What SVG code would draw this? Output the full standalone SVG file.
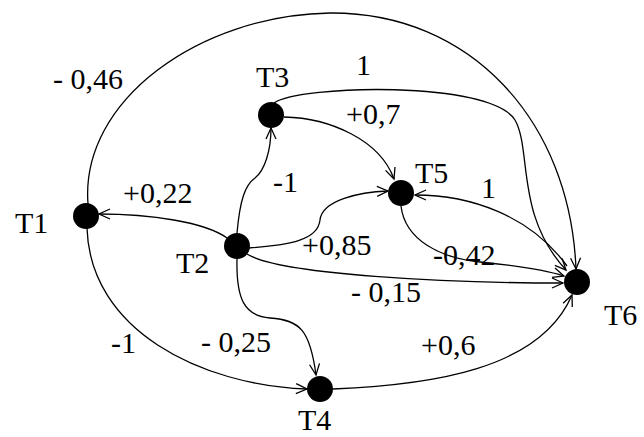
<svg xmlns="http://www.w3.org/2000/svg" width="644" height="437" viewBox="0 0 644 437">
<defs>
<marker id="a" markerUnits="userSpaceOnUse" markerWidth="14" markerHeight="12" refX="12" refY="6" orient="auto" viewBox="0 0 14 12">
<path d="M1,1 L12,6 L1,11" fill="none" stroke="#000" stroke-width="1.3"/>
</marker>
</defs>
<g id="connectors" fill="none" stroke="#000" stroke-width="1.3" marker-end="url(#a)">
<path d="M88 204 C80 100,200 15,330 13 C470 12,570 120,576 269"/>
<path d="M274 103 C300 85,490 80,515 120 C532 150,515 215,566 270"/>
<path d="M284 117 C330 118,380 140,394 179"/>
<path d="M237 233 C240 200,245 185,255 178 C265 170,271 150,271 128"/>
<path d="M227 238 C205 222,150 214,99 214"/>
<path d="M249 248 C290 245,318 240,320 220 C322 200,360 192,388 191"/>
<path d="M247 254 C280 275,450 283,563 283"/>
<path d="M237 259 C236 300,245 316,270 318 C300 320,310 330,316 375"/>
<path d="M87 228 C90 330,200 385,307 389"/>
<path d="M333 389 C430 385,540 370,572 295"/>
<path d="M401 206 C405 240,440 258,480 262 C520 266,545 270,564 276"/>
<path d="M567 266 C530 215,470 195,415 195"/>
</g>
<g id="T1"><circle cx="86" cy="216" r="13" fill="#000"/><text font-family="Liberation Serif" font-size="30" x="15" y="233">T1</text></g>
<g id="T2"><circle cx="237" cy="246" r="13" fill="#000"/><text font-family="Liberation Serif" font-size="30" x="176" y="273">T2</text></g>
<g id="T3"><circle cx="271" cy="115" r="13" fill="#000"/><text font-family="Liberation Serif" font-size="30" x="256" y="87">T3</text></g>
<g id="T4"><circle cx="320" cy="389" r="13" fill="#000"/><text font-family="Liberation Serif" font-size="30" x="298" y="430">T4</text></g>
<g id="T5"><circle cx="401" cy="193" r="13" fill="#000"/><text font-family="Liberation Serif" font-size="30" x="415" y="183">T5</text></g>
<g id="T6"><circle cx="577" cy="282" r="13" fill="#000"/><text font-family="Liberation Serif" font-size="30" x="604" y="325">T6</text></g>
<g id="labels">
<text font-family="Liberation Serif" font-size="30" x="53" y="89">- 0,46</text>
<text font-family="Liberation Serif" font-size="30" x="356" y="75">1</text>
<text font-family="Liberation Serif" font-size="30" x="346" y="124">+0,7</text>
<text font-family="Liberation Serif" font-size="30" x="481" y="198">1</text>
<text font-family="Liberation Serif" font-size="30" x="123" y="203">+0,22</text>
<text font-family="Liberation Serif" font-size="30" x="273" y="192">-1</text>
<text font-family="Liberation Serif" font-size="30" x="302" y="255">+0,85</text>
<text font-family="Liberation Serif" font-size="30" x="433" y="265">-0,42</text>
<text font-family="Liberation Serif" font-size="30" x="351" y="302">- 0,15</text>
<text font-family="Liberation Serif" font-size="30" x="111" y="353">-1</text>
<text font-family="Liberation Serif" font-size="30" x="201" y="352">- 0,25</text>
<text font-family="Liberation Serif" font-size="30" x="421" y="355">+0,6</text>
</g>
</svg>
